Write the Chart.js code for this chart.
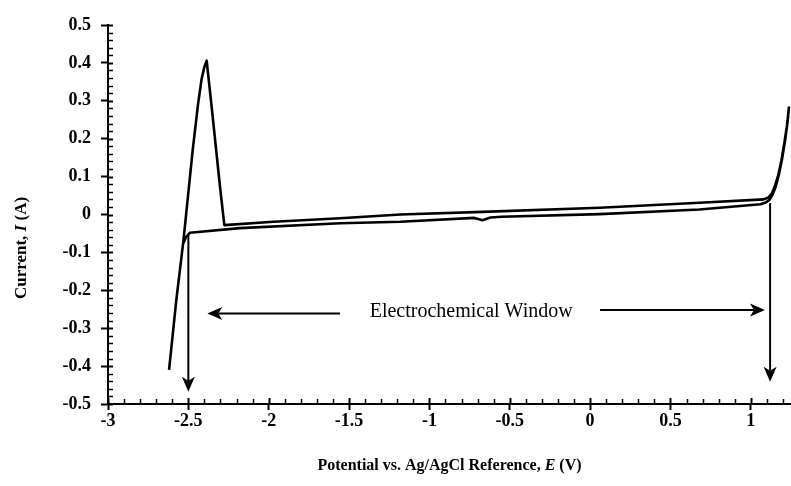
<!DOCTYPE html>
<html>
<head>
<meta charset="utf-8">
<title>Electrochemical window</title>
<script src="https://cdn.jsdelivr.net/npm/chart.js@4.4.1/dist/chart.umd.min.js"></script>
<style>
  html, body { margin: 0; padding: 0; background: #fff; }
  #wrap { width: 791px; height: 486px; }
</style>
</head>
<body>
<div id="wrap"><canvas id="cvChart" width="791" height="486"></canvas></div>
<script>
// --- data, in scan order ---
const potential = [
  -2.62, -2.575, -2.53, -2.473, -2.44, -2.417, -2.40, -2.386,
  -2.355, -2.303, -2.276,
  -1.97, -1.556, -1.18, -0.67, 0.06, 0.68, 1.08, 1.11, 1.13, 1.15, 1.17, 1.19, 1.21, 1.225, 1.237,
  1.23, 1.215, 1.195, 1.175, 1.155, 1.135, 1.115, 1.09, 1.06,
  0.68, 0.06, -0.55, -0.62, -0.67, -0.72,
  -1.18, -1.556, -2.18, -2.49, -2.515, -2.53
];
const current = [
  -0.41, -0.226, -0.067, 0.17, 0.29, 0.359, 0.39, 0.406,
  0.284, 0.073, -0.028,
  -0.019, -0.010, 0.000, 0.007, 0.018, 0.031, 0.040, 0.045, 0.055, 0.075, 0.103, 0.142, 0.192, 0.235, 0.282,
  0.25, 0.20, 0.148, 0.106, 0.074, 0.052, 0.038, 0.031, 0.027,
  0.013, 0.001, -0.006, -0.008, -0.015, -0.009,
  -0.019, -0.023, -0.036, -0.048, -0.060, -0.075
];

const xTicks = [-3, -2.5, -2, -1.5, -1, -0.5, 0, 0.5, 1];
const yTicks = [-0.5, -0.4, -0.3, -0.2, -0.1, 0, 0.1, 0.2, 0.3, 0.4, 0.5];

// annotation arrows (data units)
const vArrowX = [-2.5, 1.12];
const vArrowFrom = [-0.054, 0.030];
const vArrowTo = [-0.468, -0.441];
const hArrowY = [-0.261, -0.252];
const hArrowFrom = [-1.556, 0.062];
const hArrowTo = [-2.382, 1.088];
const windowLabel = 'Electrochemical Window';
const windowLabelAt = [-0.74, -0.257];

const serif = '"Liberation Serif", "Times New Roman", serif';

function fmt(v) {
    return String(Math.round(v * 10) / 10);
}

function drawArrow(ctx, x1, y1, x2, y2) {
    const ang = Math.atan2(y2 - y1, x2 - x1);
    const len = 15, half = 6.5, notch = 4;
    ctx.beginPath();
    ctx.moveTo(x1, y1);
    ctx.lineTo(x2 - Math.cos(ang) * (len - notch), y2 - Math.sin(ang) * (len - notch));
    ctx.stroke();
    ctx.save();
    ctx.translate(x2, y2);
    ctx.rotate(ang);
    ctx.beginPath();
    ctx.moveTo(0, 0);
    ctx.lineTo(-len, -half);
    ctx.lineTo(-len + notch, 0);
    ctx.lineTo(-len, half);
    ctx.closePath();
    ctx.fill();
    ctx.restore();
}

// text made of pieces with different fonts, centred on (cx, cy)
function richText(ctx, parts, cx, cy) {
    let total = 0;
    parts.forEach(p => { ctx.font = p.font; p.w = ctx.measureText(p.text).width; total += p.w; });
    let x = cx - total / 2;
    ctx.textAlign = 'left';
    ctx.textBaseline = 'middle';
    parts.forEach(p => { ctx.font = p.font; ctx.fillText(p.text, x, cy); x += p.w; });
}

const decor = {
    id: 'decor',
    afterDraw(chart) {
        const ctx = chart.ctx;
        const xs = chart.scales.x, ys = chart.scales.y;
        const area = chart.chartArea;
        ctx.save();
        ctx.strokeStyle = '#000';
        ctx.fillStyle = '#000';

        // inner tick marks (minor every 0.1 V / 0.02 A)
        for (let i = 0; ; i++) {
            const v = xs.min + i * 0.1;
            if (v > xs.max + 1e-9) break;
            const px = Math.round(xs.getPixelForValue(v)) + 0.5;
            const major = Math.abs(v * 2 - Math.round(v * 2)) < 1e-6;
            ctx.lineWidth = major ? 2 : 1.5;
            ctx.beginPath();
            ctx.moveTo(px, area.bottom);
            ctx.lineTo(px, area.bottom - (major ? 6 : 5));
            ctx.stroke();
        }
        for (let i = 0; ; i++) {
            const v = ys.min + i * 0.02;
            if (v > ys.max + 1e-9) break;
            const py = Math.round(ys.getPixelForValue(v)) + 0.5;
            const major = Math.abs(v * 10 - Math.round(v * 10)) < 1e-6;
            ctx.lineWidth = major ? 2 : 1.5;
            ctx.beginPath();
            ctx.moveTo(area.left, py);
            ctx.lineTo(area.left + 5, py);
            ctx.stroke();
        }

        // arrows
        ctx.lineWidth = 2;
        vArrowX.forEach((v, i) => {
            const px = xs.getPixelForValue(v);
            drawArrow(ctx, px, ys.getPixelForValue(vArrowFrom[i]), px, ys.getPixelForValue(vArrowTo[i]));
        });
        hArrowY.forEach((v, i) => {
            const py = ys.getPixelForValue(v);
            drawArrow(ctx, xs.getPixelForValue(hArrowFrom[i]), py, xs.getPixelForValue(hArrowTo[i]), py);
        });

        ctx.font = '20px ' + serif;
        ctx.textAlign = 'center';
        ctx.textBaseline = 'middle';
        ctx.fillText(windowLabel, xs.getPixelForValue(windowLabelAt[0]), ys.getPixelForValue(windowLabelAt[1]));

        // axis titles
        const b = 'bold 16px ' + serif, bi = 'italic bold 16px ' + serif;
        richText(ctx, [
            { text: 'Potential vs. Ag/AgCl Reference, ', font: b },
            { text: 'E', font: bi },
            { text: ' (V)', font: b }
        ], (area.left + area.right) / 2, 466);

        const b2 = 'bold 17px ' + serif, bi2 = 'italic bold 17px ' + serif;
        ctx.save();
        ctx.translate(22, 248);
        ctx.rotate(-Math.PI / 2);
        richText(ctx, [
            { text: 'Current, ', font: b2 },
            { text: 'I', font: bi2 },
            { text: ' (A)', font: b2 }
        ], 0, 0);
        ctx.restore();

        ctx.restore();
    }
};

const tickFont = { family: serif, size: 18, weight: 'bold' };

new Chart(document.getElementById('cvChart'), {
    type: 'scatter',
    data: {
        datasets: [{
            label: 'CV',
            data: potential.map((p, i) => ({ x: p, y: current[i] })),
            showLine: true,
            borderColor: '#000',
            borderWidth: 2.6,
            pointRadius: 0,
            tension: 0,
            borderJoinStyle: 'round'
        }]
    },
    options: {
        responsive: false,
        animation: false,
        devicePixelRatio: 1,
        layout: { padding: { top: 25, right: 0, left: 0, bottom: 0 } },
        plugins: { legend: { display: false }, tooltip: { enabled: false } },
        scales: {
            x: {
                type: 'linear', min: -3, max: 1.25,
                afterBuildTicks: s => { s.ticks = xTicks.map(v => ({ value: v })); },
                afterFit: s => { s.height = 82; },
                grid: { display: true, drawOnChartArea: false, drawTicks: true, tickLength: 6, tickWidth: 2, tickColor: '#000' },
                border: { display: true, color: '#000', width: 2 },
                ticks: { color: '#000', font: tickFont, padding: 1, maxRotation: 0, autoSkip: false, callback: v => fmt(v) }
            },
            y: {
                type: 'linear', min: -0.5, max: 0.5,
                afterBuildTicks: s => { s.ticks = yTicks.map(v => ({ value: v })); },
                afterFit: s => { s.width = 108; },
                grid: { display: true, drawOnChartArea: false, drawTicks: true, tickLength: 7, tickWidth: 2, tickColor: '#000' },
                border: { display: true, color: '#000', width: 2 },
                ticks: { color: '#000', font: tickFont, padding: 10, autoSkip: false, callback: v => fmt(v) }
            }
        }
    },
    plugins: [decor]
});
</script>
</body>
</html>
